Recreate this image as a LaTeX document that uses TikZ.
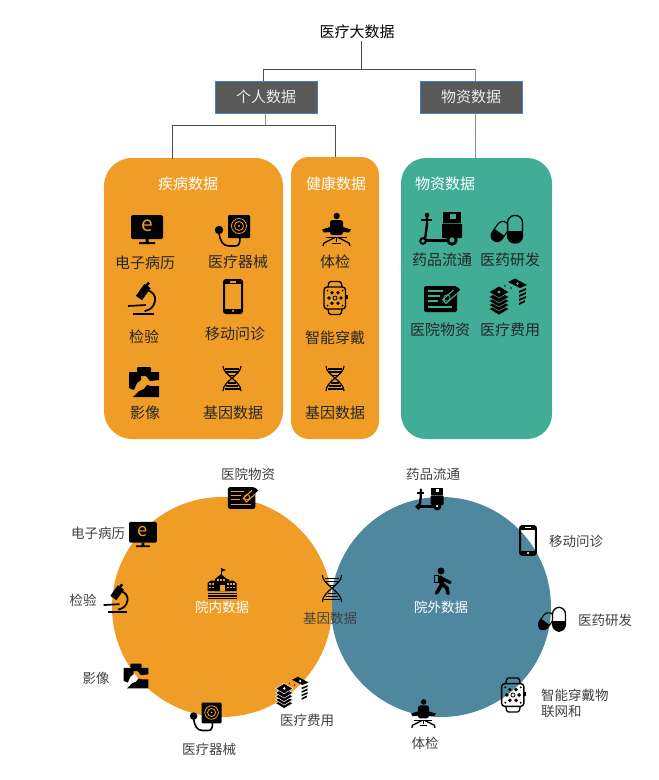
\documentclass[tikz,border=0pt]{standalone}
\usepackage{fontspec}
\setmainfont{Noto Sans CJK SC}
\definecolor{bandO}{HTML}{F09D27}
\definecolor{bandT}{HTML}{41AD96}
\definecolor{bandB}{HTML}{4F879E}
\definecolor{boxG}{HTML}{595959}
\definecolor{boxE}{HTML}{4A7EBB}
\definecolor{wireD}{HTML}{4D4D4D}
\definecolor{wireL}{HTML}{8C8C8C}
\definecolor{inkT}{HTML}{262626}
\definecolor{inkB}{HTML}{404040}
\tikzset{
  x=1pt,y=-1pt,
  labT/.style={font=\fontsize{15}{18}\selectfont,text=inkT,inner sep=0pt,outer sep=0pt,yshift=-.7pt},
  labB/.style={font=\fontsize{13.5}{16}\selectfont,text=inkB,inner sep=0pt,outer sep=0pt,yshift=-.5pt},
  labW/.style={font=\fontsize{15}{18}\selectfont,text=white,inner sep=0pt,outer sep=0pt,yshift=-.7pt},
  labC/.style={font=\fontsize{13.5}{16}\selectfont,text=white,inner sep=0pt,outer sep=0pt,yshift=-.5pt},
  card/.style={draw=none,minimum width=#1,inner sep=0pt,outer sep=0pt},
  greybox/.style={draw=boxE,line width=.6pt,fill=boxG,minimum width=102pt,minimum height=32pt,inner sep=0pt,outer sep=0pt,
    font=\fontsize{15}{18}\selectfont,text=white!92!black},
  disc/.style={circle,minimum size=220pt,inner sep=0pt,outer sep=0pt},
  wireA/.style={draw=wireD,line width=1pt},
  wireB/.style={draw=wireL,line width=1pt},
  pics/icmon/.style={code={
    \fill[black,rounded corners=1.5pt] (-16,-14) rectangle (16,10);
    \fill[black] (-1.5,10) rectangle (1.5,13) (-8,13) rectangle (8,15);
    \node[font=\fontsize{21}{21}\selectfont,text=#1,inner sep=0pt,transform shape] (mone) at (0,-3) {e};
  }},
  pics/icgauge/.style={code={
    \fill[black,rounded corners=1pt] (-7,-16) rectangle (15,7);
    \draw[#1,line width=.8pt] (4,-5) circle[radius=7.5];
    \draw[#1,line width=.8pt] (4,-5) circle[radius=4.5];
    \fill[#1] (4,-5) circle[radius=1.2];
    \fill[black] (-16,-1) circle[radius=4.2];
    \draw[black,line width=1.6pt,line cap=round] (-16,2) .. controls (-15,10) and (-12,15) .. (-6,15) -- (0,15) .. controls (4,15) and (5,12) .. (5,7);
  }},
  pics/icscope/.style={code={
    \draw[black,line width=7.5pt] (5.5,-12) -- (-3,0);
    \draw[black,line width=2.4pt] (7,-15.5) -- (3,-10.5);
    \draw[black,line width=1.8pt,line cap=round] (4,-8) .. controls (11,-7) and (14,-2) .. (13,3) .. controls (12,9) and (8,12) .. (3,13);
    \draw[black,line width=1.7pt] (-14,8) -- (4,7);
    \draw[black,line width=2.2pt] (-9,16) -- (12,16);
  }},
  pics/icphone/.style={code={
    \draw[black,line width=2pt,rounded corners=2pt] (-9,-16) rectangle (9,17);
    \fill[black] (-9,-16) rectangle (9,-12);
    \fill[black] (-9,12.5) rectangle (9,17);
    \fill[#1] (-3,-14.6) rectangle (3,-13.4);
    \fill[#1] (0,14.8) circle[radius=1.3];
  }},
  pics/icxray/.style={code={
    \fill[black] (-15,-10) -- (15,-10) -- (15,-2) -- (6,-1) -- (2,-6) -- (-3,-6) -- (-3,-2) -- (-7,1) -- (-10,8) -- (-15,6) -- cycle;
    \fill[black] (15,4) -- (15,15) -- (-11,15) -- (-5,9) -- (0,7) -- (3,3) -- (7,4) -- cycle;
    \fill[black,rounded corners=1pt] (-7,-15) rectangle (7,-10);
  }},
  pics/icdna/.style={code={
    \draw[black,line width=1.2pt] (-9,-12) .. controls (-9,-3) and (9,3) .. (9,13);
    \draw[black,line width=1.2pt] (9,-12) .. controls (9,-3) and (-9,3) .. (-9,13);
    \draw[black,line width=1.1pt] (-7,-9) -- (7,-9) (-6,-6) -- (6,-6) (-3.5,-2.5) -- (3.5,-2.5) (-4,5) -- (4,5) (-6,8) -- (6,8) (-7.5,11) -- (7.5,11);
  }},
  pics/icsit/.style={code={
    \fill[black] (.7,-14) circle[radius=3.2];
    \fill[black,rounded corners=2.5pt] (-6,-10) rectangle (7,5);
    \fill[black] (-14,-.5) -- (-6,-3) -- (-6,2) -- (-12,2.5) -- cycle;
    \fill[black] (15,-.5) -- (7,-3) -- (7,2) -- (13,2.5) -- cycle;
    \draw[black,line width=1.3pt] (-10,7.5) -- (11,7.5);
    \draw[black,line width=1.3pt] (-1,7.5) -- (-12,13) -- (-13,16);
    \draw[black,line width=1.3pt] (2,7.5) -- (13,13) -- (14,16);
    \draw[black,line width=1.1pt] (.5,7.5) -- (.5,12) (-4,13.5) -- (5,13.5);
  }},
  pics/icwatch/.style={code={
    \draw[black,line width=1.3pt,rounded corners=1.5pt] (-7,-11) -- (-6,-16.5) -- (6,-16.5) -- (7,-11);
    \draw[black,line width=1.3pt,rounded corners=1.5pt] (-7,11) -- (-6,16.5) -- (6,16.5) -- (7,11);
    \draw[black,line width=1.4pt,rounded corners=3pt] (-11,-11) rectangle (10.5,11);
    \fill[black] (10.5,-3) rectangle (12.5,1);
    \draw[black,line width=.8pt] (0,0) circle[radius=2];
    \foreach \a in {0,60,120,180,240,300}{\fill[black] (\a:6) circle[radius=1.9];}
    \foreach \p in {(-7.5,-7.5),(7.5,-7.5),(-7.5,7.5),(7.5,7.5)}{\fill[black] \p circle[radius=1];}
  }},
  pics/icrider/.style={code={
    \fill[black] (2,-17) rectangle (20,-6);
    \fill[#1] (9,-15) rectangle (14.5,-10.5);
    \fill[black,rounded corners=1pt] (1,-5.5) rectangle (21,9);
    \draw[black,line width=2.2pt] (-20,-9) -- (-9,-9);
    \fill[black] (-14,-14) circle[radius=2.3];
    \draw[black,line width=2.4pt] (-14,-12) -- (-14,-5) -- (-16,11);
    \draw[black,line width=2.8pt] (-16,11.7) -- (8,11.7);
    \draw[black,line width=2pt,fill=#1] (-18,12) circle[radius=2.8];
    \draw[black,line width=2.8pt,fill=#1] (11,11) circle[radius=4.2];
  }},
  pics/icpill/.style={code={
    \begin{scope}[shift={(-7,2.5)},rotate=-35]
      \begin{scope}
        \clip[rounded corners=6pt] (-6,-11) rectangle (6,11);
        \fill[black] (-6,1) rectangle (6,11);
      \end{scope}
      \draw[black,line width=1.1pt,rounded corners=6pt] (-6,-11) rectangle (6,11);
    \end{scope}
    \fill[#1,rounded corners=7pt] (.6,-13.5) rectangle (15.5,14);
    \begin{scope}
      \clip[rounded corners=7pt] (.6,-13.5) rectangle (15.5,14);
      \fill[black] (0,2) rectangle (16,14);
    \end{scope}
    \draw[black,line width=1.3pt,rounded corners=7pt] (.6,-13.5) rectangle (15.5,14);
  }},
  pics/icform/.style={code={
    \fill[black,rounded corners=2pt] (-17,-13) rectangle (16,13);
    \draw[#1,line width=1.2pt] (-13,-8) -- (2,-8) (-13,-3) -- (-1,-3) (-13,2) -- (-3,2) (-13,8) -- (11,8);
    \draw[#1,line width=6pt] (14,-7) -- (3,3);
    \draw[black,line width=3.5pt] (18,-10.5) -- (4,2);
    \draw[#1,line width=.8pt] (6,-1) circle[radius=3.2];
  }},
  pics/icmoney/.style={code={
    \foreach \y in {13,9,5,1,-4}{
      \fill[black,draw=#1,line width=.5pt] (-19,\y) -- (-9,\y-6) -- (1,\y) -- (-9,\y+6) -- cycle;
    }
    \fill[#1] (-9,-4) circle[radius=1.6];
    \fill[black] (0,-14) -- (7,-17.5) -- (19,-11) -- (12,-8) -- cycle;
    \fill[#1] (9.5,-12.5) circle[radius=1.4];
    \fill[black] (11,-5) -- (18,-8) -- (18,-6) -- (11,-3) -- cycle;
    \fill[black] (11,-1) -- (18,-4) -- (18,-2) -- (11,1) -- cycle;
    \fill[black] (11,3) -- (18,0) -- (18,2) -- (11,5) -- cycle;
    \fill[black] (11,7) -- (17,4) -- (17,6) -- (11,9) -- cycle;
    \fill[black] (-3,-10) circle[radius=.8] (3,-8) circle[radius=.8];
  }},
  pics/ichosp/.style={code={
    \draw[black,line width=.9pt] (-1,-15) -- (-1,-8);
    \fill[black] (-1,-15) -- (4,-13) -- (-1,-11) -- cycle;
    \fill[black] (-7,-4) -- (-1,-9) -- (5,-4) -- (7,-4) -- (7,8) -- (-7,8) -- cycle;
    \fill[black] (-14.5,8) -- (-14.5,0) -- (-11,-2.5) -- (-7,-2.5) -- (7,-2.5) -- (11,-2.5) -- (14.5,0) -- (14.5,8) -- cycle;
    \fill[black] (-14.5,9.5) rectangle (14.5,11);
    \fill[black] (-14.5,12) rectangle (14.5,13.5);
    \fill[black] (-14.5,14.5) rectangle (14.5,15.5);
    \fill[#1] (-2.5,2) rectangle (2.5,8);
    \foreach \p in {(-4,-3),(-1,-3),(2,-3),(-12,1),(-9,1),(-12,4.5),(-9,4.5),(6,1),(9,1),(12,1),(6,4.5),(9,4.5),(12,4.5)}{
      \fill[#1] \p ++(-.8,-.8) rectangle ++(1.6,1.6);
    }
  }},
  pics/icwalk/.style={code={
    \fill[black] (-2,-10) circle[radius=3.5];
    \draw[black,line width=5pt,line cap=round] (-2.5,-3) -- (-1,3);
    \draw[black,line width=3.2pt,line cap=round,line join=round] (-2,-3) -- (3,-.5) -- (7,1.5);
    \draw[black,line width=3.6pt,line cap=round,line join=round] (-1,3) -- (-4,8) -- (-6.5,12);
    \draw[black,line width=3.6pt,line cap=round,line join=round] (-1,3) -- (4,7) -- (5,12.5);
    \draw[black,line width=.9pt] (-8.5,-6) rectangle (-5,1);
  }},
}
\begin{document}
\begin{tikzpicture}
\useasboundingbox (0,0) rectangle (659,780);
% top tree
\node[labT,text=black] (title) at (357,31) {医疗大数据};
\node[greybox] (bP) at (266,97) {个人数据};
\node[greybox] (bM) at (471,97) {物资数据};
\node[card=179pt,minimum height=281pt,fill=bandO,rounded corners=28pt] (cD) at (193.5,298.5) {};
\node[card=88pt,minimum height=282pt,fill=bandO,rounded corners=18pt] (cH) at (335,298) {};
\node[card=151pt,minimum height=281pt,fill=bandT,rounded corners=25pt] (cM) at (476.5,298.5) {};
\coordinate (j0) at (361,69);
\coordinate (j1) at (263,69);
\coordinate (j2) at (475,69);
\coordinate (j3) at (265,125);
\coordinate (j4) at (172,125);
\coordinate (j5) at (335,125);
\draw[wireA] (j0 |- title.south) ++(0,2) -- (j0);
\draw[wireA] (j1 |- bP.north) -- (j1) -- (j2);
\draw[wireB] (j2) -- (j2 |- bM.north);
\draw[wireB] (j3 |- bP.south) -- (j3);
\draw[wireA] (j4 |- cD.north) ++(0,1) -- (j4) -- (j5) -- (j5 |- cH.north);
\draw[wireB] (j2 |- bM.south) -- (j2 |- cM.north);
% card headings
\node[labW] (hD) at (188,183) {疾病数据};
\node[labW] (hH) at (336,183) {健康数据};
\node[labW] (hM) at (445,183) {物资数据};
% card labels
\node[labT] (t1) at (145,262) {电子病历};
\node[labT] (t2) at (238,261) {医疗器械};
\node[labT] (t3) at (144,336) {检验};
\node[labT] (t4) at (235,333) {移动问诊};
\node[labT] (t5) at (145,412) {影像};
\node[labT] (t6) at (233,412) {基因数据};
\node[labT] (t7) at (335,261) {体检};
\node[labT] (t8) at (335,337) {智能穿戴};
\node[labT] (t9) at (335,412) {基因数据};
\node[labT] (t10) at (442,259) {药品流通};
\node[labT] (t11) at (510,259) {医药研发};
\node[labT] (t12) at (440,329) {医院物资};
\node[labT] (t13) at (510,329) {医疗费用};
% card icons
\pic at (147,229) {icmon={bandO}};
\pic at (235,231) {icgauge={bandO}};
\pic at (142,298) {icscope};
\pic at (233,296) {icphone={bandO}};
\pic at (144,382) {icxray};
\pic at (232,378) {icdna};
\pic at (336,230) {icsit};
\pic at (335,298) {icwatch};
\pic at (335,378) {icdna};
\pic at (441,229) {icrider={bandT}};
\pic at (507,229) {icpill={bandT}};
\pic at (441,299) {icform={bandT}};
\pic at (508,296) {icmoney={bandT}};
% discs
\node[disc,fill=bandB] (dR) at (441,607) {};
\node[disc,fill=bandO] (dL) at (222,607) {};
\node[labC] (dLt) at (222,607) {院内数据};
\node[labC] (dRt) at (441,607) {院外数据};
\pic at (222,583) {ichosp={bandO}};
\pic at (443,581) {icwalk};
% left disc items
\pic[scale=.83] at (242,498) {icform={bandO}};
\pic[scale=.87] at (143,534) {icmon={bandO}};
\pic[scale=.88] at (116,598) {icscope};
\pic[scale=.82] at (136,676) {icxray};
\pic[scale=.9] at (208,717) {icgauge={bandO}};
\pic[scale=.87] at (292,692) {icmoney={white}};
\pic[scale=1.07] at (332,588) {icdna};
\node[labB] (s1) at (248,474) {医院物资};
\node[labB] (s2) at (98,533) {电子病历};
\node[labB] (s3) at (83,600) {检验};
\node[labB] (s4) at (96,678) {影像};
\node[labB] (s5) at (209,749) {医疗器械};
\node[labB] (s6) at (307,720) {医疗费用};
\node[labB] (s7) at (330,618) {基因数据};
% right disc items
\pic[scale=.65] at (430,499) {icrider={white}};
\pic[scale=.87] at (528,540) {icphone={white}};
\pic[scale=.87] at (552,619) {icpill={white}};
\pic[scale=1.03] at (513,695) {icwatch};
\pic[scale=.86] at (423,714) {icsit};
\node[labB] (r1) at (433,474) {药品流通};
\node[labB] (r2) at (576,541) {移动问诊};
\node[labB] (r3) at (605,620) {医药研发};
\node[labB,anchor=west] (r4) at (541,695) {智能穿戴物};
\node[labB,anchor=west] (r5) at (541,711) {联网和};
\node[labB] (r6) at (425,743) {体检};
\end{tikzpicture}
\end{document}
